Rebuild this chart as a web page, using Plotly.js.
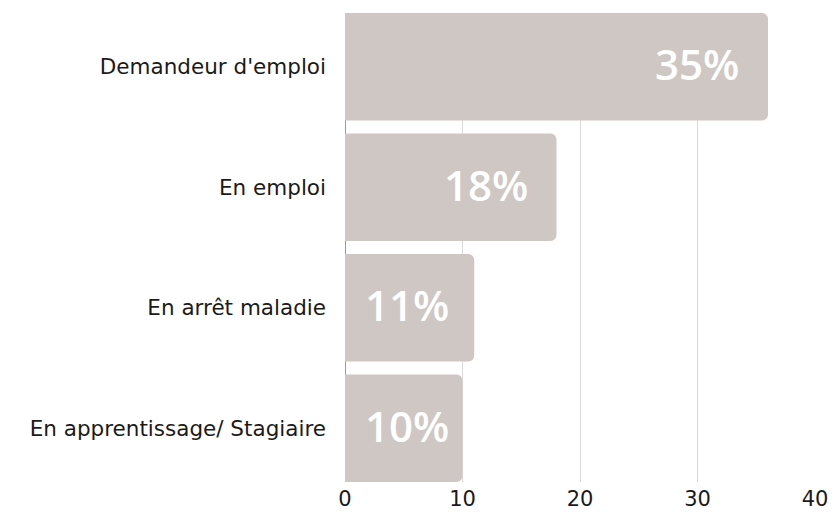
<!DOCTYPE html>
<html>
<head>
<meta charset="utf-8">
<script src="https://cdn.plot.ly/plotly-3.0.1.min.js"></script>
<style>html,body{margin:0;padding:0;background:#fff}#chart{width:834px;height:514px}</style>
</head>
<body>
<div id="chart"></div>
<script>
const categories = ["Demandeur d'emploi", "En emploi", "En arrêt maladie", "En apprentissage/ Stagiaire"];
const values = [36, 18, 11, 10];
const valueLabels = ["35%", "18%", "11%", "10%"];
const xTicks = [0, 10, 20, 30, 40];

const barColor = '#cec7c4';
const fontFam = '"Open Sans", "Noto Sans", sans-serif';
const labelFam = '"DejaVu Sans", "Open Sans", sans-serif';

const trace = {
  type: 'bar',
  orientation: 'h',
  x: values,
  y: categories,
  marker: {color: barColor, line: {width: 0}},
  hoverinfo: 'skip'
};

// pixel geometry used only to decide label placement
const plotW = 834 - 345 - 19, xMax = 40;
const pxPerUnit = plotW / xMax;
const padEnd = 27, padStart = 18, estLabelW = 86;

const annotations = categories.map((c, i) => {
  const barPx = values[i] * pxPerUnit;
  const fitsRight = barPx - padEnd - estLabelW >= padStart;
  return {
    x: fitsRight ? values[i] : 0, y: c, xref: 'x', yref: 'y',
    text: valueLabels[i], showarrow: false,
    xanchor: fitsRight ? 'right' : 'left', yanchor: 'middle',
    xshift: fitsRight ? -padEnd : padStart, yshift: 3,
    font: {family: fontFam, size: 42, color: '#ffffff', weight: 600}
  };
});

const layout = {
  width: 834, height: 514,
  margin: {l: 345, r: 19, t: 13, b: 32, pad: 0},
  paper_bgcolor: '#ffffff', plot_bgcolor: '#ffffff',
  bargap: 0.108,
  barcornerradius: 6,
  showlegend: false,
  xaxis: {
    range: [0, xMax], tickvals: xTicks, ticktext: xTicks.map(String),
    showgrid: true, gridcolor: '#d9d9d9', gridwidth: 1,
    zeroline: true, zerolinecolor: '#9a9a9a', zerolinewidth: 1,
    showline: false, ticks: '', ticklabelstandoff: 2,
    tickfont: {family: labelFam, size: 21, color: '#1a1a1a'},
    fixedrange: true
  },
  yaxis: {
    type: 'category', categoryorder: 'array', categoryarray: categories,
    range: [3.446, -0.446],
    showgrid: false, zeroline: false, showline: false, ticks: '',
    ticklabelstandoff: 18,
    tickfont: {family: labelFam, size: 21.5, color: '#1a1a1a'},
    fixedrange: true
  },
  annotations: annotations
};

Plotly.newPlot('chart', [trace], layout, {displayModeBar: false, staticPlot: true});
</script>
</body>
</html>
